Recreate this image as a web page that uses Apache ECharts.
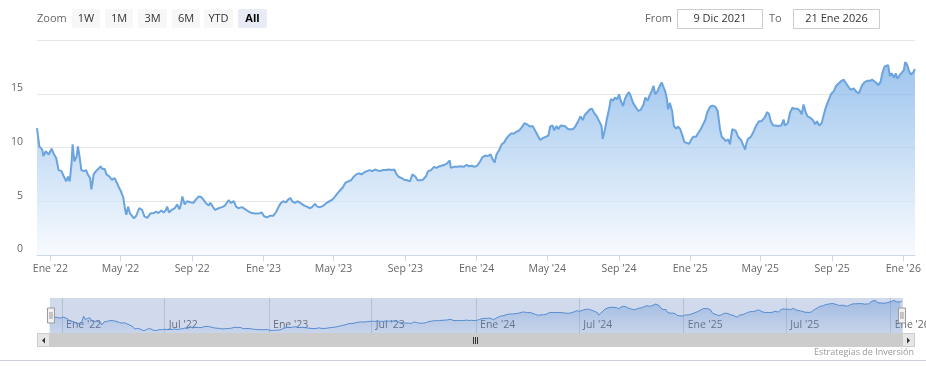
<!DOCTYPE html>
<html>
<head>
<meta charset="utf-8">
<script src="https://cdn.jsdelivr.net/npm/echarts@6/dist/echarts.min.js"></script>
<style>html,body{margin:0;padding:0;background:#fff}#c{width:926px;height:380px}</style>
</head>
<body>
<div id="c"></div>
<script>
// ---- data ----
const dates = [
'2021-12-09','2021-12-13','2021-12-18','2021-12-20','2021-12-24','2021-12-29','2022-01-03','2022-01-06','2022-01-11','2022-01-15',
'2022-01-20','2022-01-24','2022-01-28','2022-01-31','2022-02-03','2022-02-06','2022-02-08','2022-02-11','2022-02-15','2022-02-17',
'2022-02-19','2022-02-23','2022-02-27','2022-03-03','2022-03-06','2022-03-10','2022-03-12','2022-03-14','2022-03-16','2022-03-20',
'2022-03-24','2022-03-28','2022-03-31','2022-04-04','2022-04-07','2022-04-12','2022-04-16','2022-04-21','2022-04-25','2022-04-29',
'2022-05-02','2022-05-06','2022-05-09','2022-05-11','2022-05-14','2022-05-17','2022-05-20','2022-05-24','2022-05-28','2022-06-02',
'2022-06-07','2022-06-11','2022-06-16','2022-06-21','2022-06-27','2022-07-01','2022-07-05','2022-07-10','2022-07-14','2022-07-18',
'2022-07-20','2022-07-23','2022-07-28','2022-08-02','2022-08-06','2022-08-10','2022-08-13','2022-08-15','2022-08-19','2022-08-23',
'2022-08-29','2022-09-03','2022-09-07','2022-09-12','2022-09-16','2022-09-20','2022-09-24','2022-09-29','2022-10-02','2022-10-06',
'2022-10-10','2022-10-16','2022-10-22','2022-10-27','2022-11-02','2022-11-06','2022-11-11','2022-11-15','2022-11-19','2022-11-25',
'2022-12-01','2022-12-06','2022-12-12','2022-12-18','2022-12-23','2022-12-29','2023-01-02','2023-01-07','2023-01-12','2023-01-18',
'2023-01-23','2023-01-27','2023-01-31','2023-02-04','2023-02-09','2023-02-12','2023-02-16','2023-02-19','2023-02-24','2023-02-28',
'2023-03-05','2023-03-08','2023-03-12','2023-03-16','2023-03-21','2023-03-25','2023-03-30','2023-04-03','2023-04-08','2023-04-14',
'2023-04-19','2023-04-24','2023-04-29','2023-05-03','2023-05-08','2023-05-12','2023-05-17','2023-05-21','2023-05-26','2023-05-31',
'2023-06-04','2023-06-09','2023-06-13','2023-06-18','2023-06-23','2023-06-27','2023-07-02','2023-07-06','2023-07-11','2023-07-14',
'2023-07-19','2023-07-25','2023-07-30','2023-08-03','2023-08-09','2023-08-13','2023-08-17','2023-08-21','2023-08-26','2023-08-30',
'2023-09-04','2023-09-09','2023-09-13','2023-09-18','2023-09-22','2023-09-27','2023-10-01','2023-10-06','2023-10-10','2023-10-15',
'2023-10-20','2023-10-24','2023-10-29','2023-11-02','2023-11-07','2023-11-11','2023-11-16','2023-11-18','2023-11-23','2023-11-29',
'2023-12-04','2023-12-10','2023-12-15','2023-12-19','2023-12-24','2023-12-28','2024-01-02','2024-01-07','2024-01-11','2024-01-16',
'2024-01-20','2024-01-25','2024-01-28','2024-02-01','2024-02-04','2024-02-09','2024-02-13','2024-02-17','2024-02-20','2024-02-25',
'2024-02-29','2024-03-05','2024-03-09','2024-03-14','2024-03-18','2024-03-23','2024-03-28','2024-04-01','2024-04-06','2024-04-10',
'2024-04-15','2024-04-19','2024-04-24','2024-04-29','2024-05-03','2024-05-06','2024-05-10','2024-05-13','2024-05-17','2024-05-20',
'2024-05-24','2024-05-27','2024-05-31','2024-06-02','2024-06-06','2024-06-09','2024-06-14','2024-06-18','2024-06-23','2024-06-27',
'2024-07-01','2024-07-04','2024-07-09','2024-07-13','2024-07-17','2024-07-20','2024-07-25','2024-07-29','2024-08-02','2024-08-04',
'2024-08-08','2024-08-11','2024-08-15','2024-08-18','2024-08-22','2024-08-25','2024-08-29','2024-09-01','2024-09-04','2024-09-08',
'2024-09-11','2024-09-15','2024-09-18','2024-09-21','2024-09-25','2024-09-29','2024-10-04','2024-10-08','2024-10-13','2024-10-16',
'2024-10-20','2024-10-23','2024-10-27','2024-10-30','2024-11-02','2024-11-06','2024-11-09','2024-11-13','2024-11-16','2024-11-19',
'2024-11-22','2024-11-24','2024-11-27','2024-12-01','2024-12-04','2024-12-08','2024-12-11','2024-12-15','2024-12-18','2024-12-22',
'2024-12-25','2024-12-30','2025-01-03','2025-01-06','2025-01-11','2025-01-14','2025-01-19','2025-01-23','2025-01-27','2025-01-30',
'2025-02-04','2025-02-08','2025-02-13','2025-02-17','2025-02-21','2025-02-24','2025-02-27','2025-03-03','2025-03-07','2025-03-10',
'2025-03-14','2025-03-17','2025-03-20','2025-03-24','2025-03-29','2025-04-01','2025-04-05','2025-04-07','2025-04-10','2025-04-15',
'2025-04-20','2025-04-24','2025-04-29','2025-05-03','2025-05-08','2025-05-13','2025-05-16','2025-05-19','2025-05-23','2025-05-27',
'2025-06-01','2025-06-06','2025-06-10','2025-06-12','2025-06-17','2025-06-21','2025-06-25','2025-06-29','2025-07-04','2025-07-08',
'2025-07-11','2025-07-14','2025-07-18','2025-07-21','2025-07-26','2025-07-30','2025-08-03','2025-08-06','2025-08-10','2025-08-14',
'2025-08-18','2025-08-21','2025-08-26','2025-08-30','2025-09-04','2025-09-08','2025-09-13','2025-09-17','2025-09-21','2025-09-24',
'2025-09-29','2025-10-03','2025-10-08','2025-10-13','2025-10-17','2025-10-22','2025-10-26','2025-10-31','2025-11-04','2025-11-09',
'2025-11-12','2025-11-16','2025-11-19','2025-11-23','2025-11-26','2025-11-30','2025-12-03','2025-12-06','2025-12-09','2025-12-12',
'2025-12-16','2025-12-19','2025-12-22','2025-12-26','2025-12-29','2026-01-02','2026-01-04','2026-01-07','2026-01-11','2026-01-14',
'2026-01-18','2026-01-21'
];
const prices = [
11.8,10.1,9.8,9.2,9.65,9.35,9.9,9.5,9.0,7.9,
7.8,7.3,6.85,7.3,6.85,8.4,10.3,8.7,9.2,10.1,
9.5,7.9,7.8,7.9,7.5,7.15,6.1,6.7,7.5,7.8,
8.0,8.25,8.0,8.0,7.5,7.3,7.0,7.15,6.7,6.2,
5.9,5.3,4.2,3.75,4.5,3.9,4.05,3.4,3.65,4.35,
4.2,3.6,3.45,3.85,3.9,4.05,3.9,4.15,3.95,4.2,
4.5,3.95,4.2,4.35,4.7,4.25,4.8,5.45,4.7,5.0,
4.9,4.85,5.15,5.45,5.4,5.15,4.85,4.6,4.85,4.5,
4.2,4.35,4.45,4.6,5.1,4.85,5.0,4.5,4.35,4.45,
4.25,4.05,3.9,3.85,3.85,3.95,3.6,3.5,3.65,3.65,
4.05,4.5,4.85,5.0,4.9,5.15,5.3,5.0,4.85,5.0,
4.85,5.0,4.6,4.5,4.35,4.45,4.75,4.5,4.45,4.6,
4.85,5.0,5.15,5.4,5.75,6.0,6.3,6.7,6.85,6.95,
7.25,7.5,7.6,7.5,7.7,7.8,7.9,7.8,7.95,8.1,
7.8,7.9,7.9,7.95,7.9,7.95,7.5,7.25,7.15,7.0,
6.95,6.85,7.5,7.3,6.95,6.95,7.0,7.3,7.8,7.9,
8.2,8.1,8.25,8.3,8.4,8.5,8.8,8.1,8.2,8.2,
8.25,8.2,8.4,8.25,8.3,8.2,8.3,8.7,9.1,9.25,
9.2,9.35,8.95,8.6,9.35,9.8,10.3,10.45,10.75,11.1,
11.3,11.3,11.45,11.6,11.85,12.25,12.15,11.95,12.0,11.6,
11.1,10.7,10.9,11.0,11.1,11.95,12.05,11.6,12.0,11.7,
12.05,11.9,12.0,12.05,11.7,11.85,11.7,11.95,12.45,12.9,
12.55,13.0,13.3,13.55,13.6,13.25,12.9,12.45,12.0,10.8,
11.7,12.6,13.6,14.5,14.35,14.65,14.5,14.95,14.35,13.85,
14.5,14.95,15.15,14.8,14.15,13.8,13.4,13.5,14.0,14.65,
14.35,14.8,15.25,15.75,14.95,15.25,15.65,16.05,15.9,15.25,
14.5,13.55,14.15,13.4,12.0,11.75,11.95,11.7,11.2,10.5,
10.35,10.35,10.75,11.0,11.0,11.3,11.7,12.15,12.6,13.25,
13.8,13.9,13.8,13.4,11.7,11.0,11.05,10.6,10.75,10.3,
11.7,11.85,11.55,11.0,10.7,10.75,9.8,10.35,10.8,11.0,
11.55,12.05,12.45,12.45,12.75,13.3,13.1,12.45,12.05,12.05,
12.0,12.05,12.6,12.05,12.25,13.25,13.7,13.6,13.6,13.4,
13.1,14.0,13.25,12.9,12.75,12.55,12.15,12.45,12.05,12.25,
13.1,13.7,14.4,14.95,15.25,15.75,16.0,16.2,16.3,16.05,
15.65,15.35,15.5,15.15,15.05,15.75,16.05,16.2,16.2,16.3,
16.4,16.0,15.8,16.1,16.9,17.55,17.65,17.65,16.65,16.9,
16.5,16.9,16.4,16.75,16.9,17.2,17.95,17.75,17.1,16.8,
17.0,17.3
];
const rangeStart = '2021-12-09';
const rangeEnd = '2026-01-21';
const mainTicks = ['2022-01-01','2022-05-01','2022-09-01','2023-01-01','2023-05-01','2023-09-01','2024-01-01','2024-05-01','2024-09-01','2025-01-01','2025-05-01','2025-09-01','2026-01-01'];
const navTicks = ['2022-01-01','2022-07-01','2023-01-01','2023-07-01','2024-01-01','2024-07-01','2025-01-01','2025-07-01','2026-01-01'];
const monthNames = ['Ene','Feb','Mar','Abr','May','Jun','Jul','Ago','Sep','Oct','Nov','Dic'];
const zoomButtons = ['1W','1M','3M','6M','YTD','All'];
const fromText = '9 Dic 2021';
const toText = '21 Ene 2026';
const creditText = 'Estrategias de Inversión';

// ---- chart ----
const FONT = "'Open Sans', 'Noto Sans', sans-serif";
const ts = s => Date.parse(s + 'T00:00:00Z');
const seriesData = dates.map((d, i) => [ts(d), prices[i]]);
const fmtDate = v => { const d = new Date(v); return monthNames[d.getUTCMonth()] + " '" + String(d.getUTCFullYear()).slice(2); };
const mainTickVals = mainTicks.map(ts);
const navTickVals = navTicks.map(ts);

const btnX = [72, 105, 138, 172, 204, 238];
const btnW = [28, 28, 29, 28, 29, 29];
const graphics = [];
graphics.push({type:'text', style:{x:37, y:18.5, text:'Zoom', fill:'#666', font:'11px ' + FONT, textAlign:'left', textVerticalAlign:'middle'}});
zoomButtons.forEach((b, i) => {
  const sel = b === 'All';
  graphics.push({type:'rect', shape:{x:btnX[i], y:9, width:btnW[i], height:19, r:2}, style:{fill: sel ? '#e6ebf5' : '#f7f7f7'}});
  graphics.push({type:'text', style:{x:btnX[i] + btnW[i]/2, y:18.5, text:b, fill: sel ? '#000' : '#333', font:(sel ? 'bold ' : '') + '11px ' + FONT, textAlign:'center', textVerticalAlign:'middle'}});
});
graphics.push({type:'text', style:{x:645, y:18.5, text:'From', fill:'#666', font:'11px ' + FONT, textAlign:'left', textVerticalAlign:'middle'}});
graphics.push({type:'rect', shape:{x:677.5, y:9.5, width:85, height:19}, style:{fill:'#fff', stroke:'#cccccc', lineWidth:1}});
graphics.push({type:'text', style:{x:720, y:18.5, text:fromText, fill:'#333', font:'11px ' + FONT, textAlign:'center', textVerticalAlign:'middle'}});
graphics.push({type:'text', style:{x:769, y:18.5, text:'To', fill:'#666', font:'11px ' + FONT, textAlign:'left', textVerticalAlign:'middle'}});
graphics.push({type:'rect', shape:{x:793.5, y:9.5, width:86, height:19}, style:{fill:'#fff', stroke:'#cccccc', lineWidth:1}});
graphics.push({type:'text', style:{x:836.5, y:18.5, text:toText, fill:'#333', font:'11px ' + FONT, textAlign:'center', textVerticalAlign:'middle'}});
// scrollbar
graphics.push({type:'rect', shape:{x:37, y:333, width:878, height:14}, style:{fill:'#f2f2f2'}});
graphics.push({type:'rect', shape:{x:49, y:333, width:853, height:14}, style:{fill:'#cccccc'}});
graphics.push({type:'rect', shape:{x:37.5, y:333.5, width:12, height:13}, style:{fill:'#e6e6e6', stroke:'#cccccc', lineWidth:1}});
graphics.push({type:'rect', shape:{x:902.5, y:333.5, width:12, height:13}, style:{fill:'#e6e6e6', stroke:'#cccccc', lineWidth:1}});
graphics.push({type:'polygon', shape:{points:[[45,337.5],[45,343.5],[42,340.5]]}, style:{fill:'#333'}});
graphics.push({type:'polygon', shape:{points:[[907,337.5],[907,343.5],[910,340.5]]}, style:{fill:'#333'}});
[473.5, 475.5, 477.5].forEach(x => graphics.push({type:'line', shape:{x1:x, y1:337, x2:x, y2:344}, style:{stroke:'#333', lineWidth:1}}));
// bottom separator + credit
graphics.push({type:'line', shape:{x1:0, y1:360.5, x2:926, y2:360.5}, style:{stroke:'#ccd0e0', lineWidth:1}});
graphics.push({type:'text', style:{x:914, y:352, text:creditText, fill:'#999', font:'9px ' + FONT, textAlign:'right', textVerticalAlign:'middle'}});

const option = {
  animation: false,
  backgroundColor: '#fff',
  textStyle: { fontFamily: FONT },
  grid: [
    { left: 37, right: 11, top: 40, bottom: 125, containLabel: false, outerBoundsMode: 'none' },
    { left: 49, right: 24, top: 298, height: 35, containLabel: false, outerBoundsMode: 'none' }
  ],
  xAxis: [
    {
      type: 'value', gridIndex: 0, min: ts(rangeStart), max: ts(rangeEnd), scale: true,
      axisLine: { show: true, lineStyle: { color: '#ccd6eb', width: 1 } },
      axisTick: { show: true, length: 6, customValues: mainTickVals, lineStyle: { color: '#ccd6eb' } },
      axisLabel: { customValues: mainTickVals, formatter: fmtDate, color: '#666', fontSize: 10.5, margin: 9, hideOverlap: false, showMinLabel: true, showMaxLabel: true },
      splitLine: { show: false }
    },
    {
      type: 'value', gridIndex: 1, min: ts(rangeStart), max: ts(rangeEnd), scale: true,
      axisLine: { show: false },
      axisTick: { show: false, customValues: navTickVals },
      axisLabel: { customValues: navTickVals, formatter: fmtDate, inside: true, align: 'left', padding: [0, 0, 0, 4], color: '#666', fontSize: 10.5, margin: 2, hideOverlap: false },
      splitLine: { show: true, lineStyle: { color: '#dcdcdc', width: 1 } }
    }
  ],
  yAxis: [
    {
      type: 'value', gridIndex: 0, min: 0, max: 20, interval: 5,
      axisLine: { show: false }, axisTick: { show: false },
      axisLabel: { color: '#666', fontSize: 10.5, margin: 14, verticalAlign: 'bottom', formatter: v => (v === 20 ? '' : String(v)) },
      splitLine: { show: true, lineStyle: { color: '#e6e6e6', width: 1 } }
    },
    { type: 'value', gridIndex: 1, min: 2.3, max: 18.9, show: false, splitLine: { show: false } }
  ],
  dataZoom: [{
    type: 'slider', xAxisIndex: 0, start: 0, end: 100,
    left: 49, right: 24, top: 298, height: 35,
    showDataShadow: false, showDetail: false, brushSelect: false, moveHandleSize: 0,
    borderColor: 'transparent', backgroundColor: 'rgba(0,0,0,0)',
    fillerColor: 'rgba(102,133,194,0.3)',
    handleIcon: 'path://M0,0H7V15H0Z M2.5,4V11 M4.5,4V11',
    handleSize: 15,
    handleStyle: { color: '#f2f2f2', borderColor: '#999', borderWidth: 1 },
    emphasis: { handleStyle: { color: '#f2f2f2', borderColor: '#999' } }
  }],
  series: [
    {
      type: 'line', xAxisIndex: 0, yAxisIndex: 0, data: seriesData, showSymbol: false,
      lineStyle: { color: '#6aa3dd', width: 2 },
      itemStyle: { color: '#6aa3dd' },
      areaStyle: { color: new echarts.graphic.LinearGradient(0, 0, 0, 1, [
        { offset: 0, color: '#74ace6' }, { offset: 1, color: '#f5f9fe' }
      ]) }
    },
    {
      type: 'line', xAxisIndex: 1, yAxisIndex: 1, data: seriesData, showSymbol: false,
      lineStyle: { color: '#4f8fd6', width: 1 },
      areaStyle: { color: new echarts.graphic.LinearGradient(0, 0, 0, 1, [
        { offset: 0, color: 'rgba(79,143,214,0.55)' }, { offset: 1, color: 'rgba(79,143,214,0.1)' }
      ]) }
    }
  ],
  graphic: graphics
};
const chart = echarts.init(document.getElementById('c'), null, { renderer: 'canvas' });
chart.setOption(option);
</script>
</body>
</html>
